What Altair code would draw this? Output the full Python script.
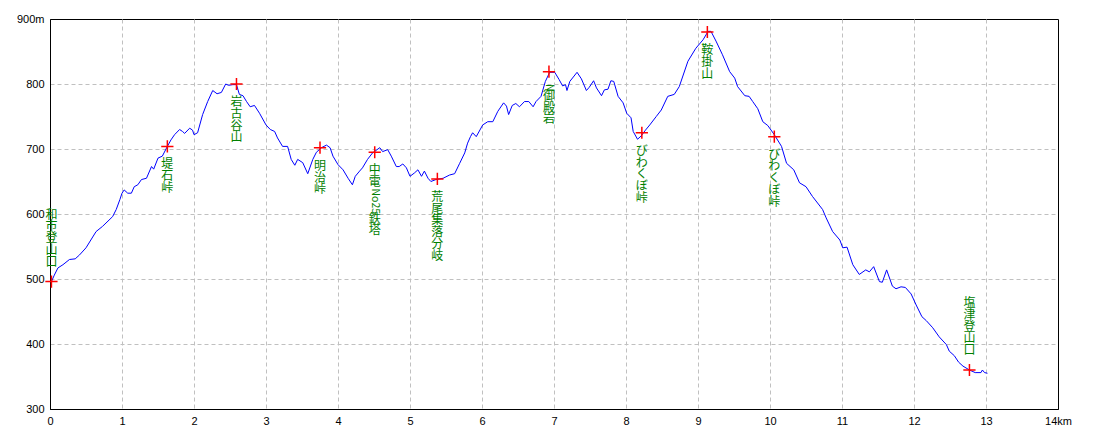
import altair as alt
import pandas as pd

# ---- elevation profile (km, m) ----
dist_km = [0.02, 0.06, 0.11, 0.18, 0.27, 0.35, 0.41, 0.50, 0.64, 0.73, 0.87, 0.92, 0.97, 1.00, 1.03, 1.08,
           1.13, 1.17, 1.22, 1.27, 1.34, 1.41, 1.44, 1.50, 1.56, 1.63, 1.68, 1.73, 1.80, 1.84, 1.87, 1.94,
           1.98, 2.00, 2.05, 2.12, 2.19, 2.26, 2.32, 2.38, 2.44, 2.48, 2.54, 2.59, 2.63, 2.68, 2.73, 2.78,
           2.84, 2.91, 3.00, 3.06, 3.12, 3.16, 3.23, 3.30, 3.35, 3.40, 3.44, 3.51, 3.58, 3.65, 3.70, 3.77,
           3.84, 3.89, 3.93, 4.00, 4.07, 4.14, 4.20, 4.24, 4.30, 4.34, 4.41, 4.48, 4.58, 4.62, 4.69, 4.74,
           4.81, 4.85, 4.90, 4.95, 5.00, 5.06, 5.11, 5.16, 5.20, 5.25, 5.29, 5.36, 5.46, 5.55, 5.62, 5.69,
           5.76, 5.80, 5.84, 5.87, 5.92, 6.01, 6.08, 6.15, 6.22, 6.30, 6.34, 6.37, 6.42, 6.47, 6.52, 6.59,
           6.65, 6.71, 6.75, 6.82, 6.88, 6.94, 7.01, 7.07, 7.12, 7.16, 7.18, 7.22, 7.32, 7.38, 7.45, 7.49,
           7.55, 7.59, 7.66, 7.70, 7.75, 7.79, 7.83, 7.89, 7.96, 8.01, 8.07, 8.10, 8.16, 8.21, 8.27, 8.33,
           8.42, 8.49, 8.58, 8.67, 8.74, 8.86, 8.97, 9.07, 9.14, 9.18, 9.25, 9.34, 9.44, 9.51, 9.55, 9.65,
           9.71, 9.76, 9.83, 9.90, 9.97, 10.06, 10.16, 10.23, 10.33, 10.41, 10.50, 10.59, 10.73, 10.78,
           10.87, 10.97, 11.01, 11.07, 11.15, 11.24, 11.33, 11.38, 11.44, 11.52, 11.56, 11.62, 11.70,
           11.75, 11.82, 11.88, 11.96, 12.03, 12.11, 12.17, 12.26, 12.35, 12.45, 12.49, 12.56, 12.62,
           12.68, 12.77, 12.85, 12.93, 12.95, 12.98, 13.02]
elev_m = [496, 506, 517, 522, 530, 531, 537, 548, 573, 581, 596, 607, 622, 632, 637, 632,
          632, 642, 645, 653, 655, 673, 669, 686, 689, 704, 714, 722, 730, 727, 724, 732,
          729, 722, 725, 753, 773, 790, 785, 787, 800, 798, 799, 799, 784, 782, 773, 765,
          767, 755, 737, 730, 727, 717, 704, 704, 684, 675, 684, 679, 662, 684, 695, 702,
          706, 702, 689, 676, 668, 655, 645, 658, 666, 671, 684, 694, 702, 696, 699, 689,
          673, 673, 677, 671, 658, 663, 668, 658, 666, 655, 650, 653, 655, 660, 662, 678,
          694, 709, 719, 725, 719, 737, 742, 742, 758, 771, 766, 753, 767, 770, 765, 773,
          773, 765, 773, 781, 804, 818, 818, 807, 797, 799, 790, 804, 818, 808, 790, 795,
          805, 794, 782, 791, 792, 805, 804, 781, 771, 755, 748, 727, 715, 720, 729, 737,
          750, 760, 781, 784, 796, 835, 855, 868, 881, 881, 866, 845, 819, 809, 796, 782,
          781, 773, 762, 742, 736, 722, 704, 678, 668, 648, 642, 627, 607, 594,
          573, 560, 548, 549, 522, 507, 514, 511, 519, 496, 495, 514, 489,
          485, 488, 487, 477, 460, 442, 436, 425, 411, 399, 389, 382, 372,
          366, 360, 356, 356, 360, 356, 355]

# ---- waypoints ----
wp_names = ["和市登山口", "堤石峠", "岩古谷山", "明治峠", "中電No25鉄塔", "荒尾集落分岐",
            "N御殿岩", "びわくぼ峠", "鞍掛山", "びわくぼ峠", "塩津登山口"]
wp_km = [0.02, 1.63, 2.59, 3.75, 4.51, 5.38, 6.93, 8.22, 9.13, 10.06, 12.77]
wp_elev = [496, 704, 800, 702, 695, 654, 819, 725, 880, 719, 360]
wp_side = ["above", "below", "below", "below", "below", "below",
           "below", "below", "below", "below", "above"]

PLOT_W, PLOT_H = 1008, 390
Y_MIN, Y_MAX = 300, 900

profile = pd.DataFrame({"km": dist_km, "elev": elev_m})
wps = pd.DataFrame({"name": wp_names, "km": wp_km, "elev": wp_elev})

# vertical labels: split into runs of upright CJK (stacked lines) and sideways Latin
CJK_ADV, LAT_ADV, GAP = 11.8, 6.2, 13.0


def runs_of(name):
    out = []
    for c in name:
        lat = ord(c) < 128
        if out and out[-1][1] == lat:
            out[-1][0] += c
        else:
            out.append([c, lat])
    return out


rows = []
for name, k, e, side in zip(wp_names, wp_km, wp_elev, wp_side):
    runs = runs_of(name)
    lens = [len(t) * (LAT_ADV if lat else CJK_ADV) for t, lat in runs]
    cursor = GAP if side == "below" else -GAP - sum(lens)
    for (t, lat), L in zip(runs, lens):
        if lat:
            rows.append({"txt": t, "km": k, "elev": e, "off": cursor + L / 2, "latin": True})
        else:
            rows.append({"txt": "\n".join(t), "km": k, "elev": e, "off": cursor, "latin": False})
        cursor += L
runs_df = pd.DataFrame(rows)

xs = alt.Scale(domain=[0, 14], nice=False, zero=False)
ys = alt.Scale(domain=[Y_MIN, Y_MAX], nice=False, zero=False)

common_axis = dict(grid=True, gridColor="#c0c0c0", gridDash=[4, 3], gridWidth=1,
                   domainColor="#000000", ticks=False, labelPadding=6,
                   labelFont="Liberation Sans", labelFontSize=11, labelColor="#000000",
                   title=None, labelFlush=False, labelOverlap=False, format="d")
x_axis = alt.Axis(values=list(range(0, 15)),
                  labelExpr="datum.value == 14 ? '14km' : datum.label",
                  gridOpacity=alt.condition("datum.value == 14 || datum.value == 0", alt.value(0), alt.value(1)),
                  **common_axis)
y_axis = alt.Axis(values=list(range(300, 901, 100)),
                  labelExpr="datum.value == 900 ? '900m' : datum.label",
                  gridOpacity=alt.condition("datum.value == 900 || datum.value == 300", alt.value(0), alt.value(1)),
                  **common_axis)

line = alt.Chart(profile).mark_line(color="#0000ff", strokeWidth=1, interpolate="linear").encode(
    x=alt.X("km:Q", scale=xs, axis=x_axis),
    y=alt.Y("elev:Q", scale=ys, axis=y_axis),
    order="km:Q",
)

markers = alt.Chart(wps).mark_point(shape="M-1,0L1,0M0,-1L0,1", size=150, stroke="#ff0000",
                                    strokeWidth=1.5, filled=False, opacity=1).encode(
    x=alt.X("km:Q", scale=xs), y=alt.Y("elev:Q", scale=ys))

px_to_m = (Y_MAX - Y_MIN) / PLOT_H
base = alt.Chart(runs_df).transform_calculate(ty=f"datum.elev - datum.off * {px_to_m}")

cjk = base.transform_filter("!datum.latin").mark_text(
    font="Noto Sans CJK JP", fontSize=12, color="#008000", align="center", baseline="top",
    lineBreak="\n", lineHeight=CJK_ADV).encode(
    x=alt.X("km:Q", scale=xs), y=alt.Y("ty:Q", scale=ys), text="txt:N")

lat = base.transform_filter("datum.latin").mark_text(
    font="Noto Sans CJK JP", fontSize=10.5, color="#008000", align="center", baseline="middle",
    angle=90).encode(
    x=alt.X("km:Q", scale=xs), y=alt.Y("ty:Q", scale=ys), text="txt:N")

chart = alt.layer(line, markers, cjk, lat).properties(
    width=PLOT_W, height=PLOT_H,
    autosize=alt.AutoSizeParams(type="none"),
    padding={"left": 42, "top": 11, "right": 30, "bottom": 20},
    background="#ffffff",
).configure_view(stroke="#000000", strokeWidth=1)

chart.save("out.html", embed_options={"renderer": "svg", "actions": False})
